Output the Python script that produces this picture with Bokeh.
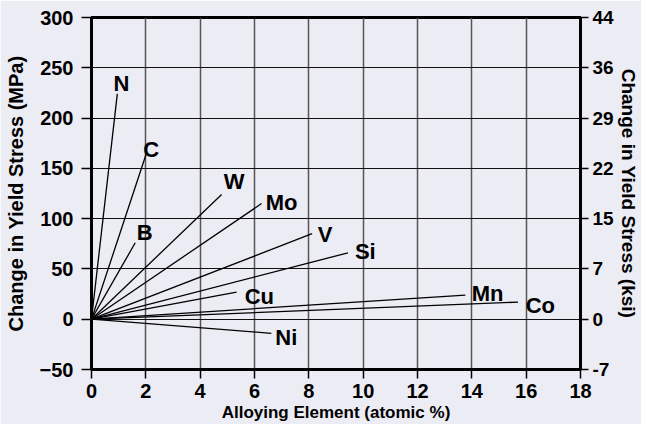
from bokeh.plotting import figure
from bokeh.models import LinearAxis, Range1d, FixedTicker, Label, ColumnDataSource
from bokeh.core.properties import value
from bokeh.embed import file_html
from bokeh.resources import INLINE

# ---- data ----
elements = ["N", "C", "B", "W", "Mo", "V", "Si", "Cu", "Mn", "Co", "Ni"]
end_x = [0.95, 2.01, 1.61, 4.79, 6.26, 8.12, 9.44, 5.34, 13.76, 15.70, 6.62]
end_y = [224, 164, 76, 124, 115, 85, 66, 27, 24, 17, -14]
label_x = [1.10, 2.20, 1.96, 5.25, 7.00, 8.60, 10.08, 6.18, 14.58, 16.52, 7.17]
label_y = [234, 169, 86, 137, 116, 84, 67, 23, 26, 14, -18]
origin_x = 0.0
origin_y = 0.0

x_ticks = [0, 2, 4, 6, 8, 10, 12, 14, 16, 18]
y_ticks = [-50, 0, 50, 100, 150, 200, 250, 300]
ksi_labels = ["-7", "0", "7", "15", "22", "29", "36", "44"]

title_text = "Stainless Steels"
x_title = "Alloying Element (atomic %)"
y_title = "Change in Yield Stress (MPa)"
y2_title = "Change in Yield Stress (ksi)"

# ---- style ----
bg = "#ececf4"
main_font = "Liberation Sans"

p = figure(width=641, height=424,
           x_range=Range1d(0, 18), y_range=Range1d(-50, 300),
           output_backend="svg", toolbar_location=None,
           min_border_left=91, min_border_right=58,
           min_border_top=17, min_border_bottom=54,
           background_fill_color=bg, border_fill_color=bg)

p.outline_line_color = "black"
p.outline_line_width = 3

p.xaxis.ticker = FixedTicker(ticks=x_ticks)
p.yaxis.ticker = FixedTicker(ticks=y_ticks)
p.xaxis.axis_label = x_title
p.yaxis.axis_label = y_title

p.extra_y_ranges = {"ksi": Range1d(-50, 300)}
ax2 = LinearAxis(y_range_name="ksi", ticker=FixedTicker(ticks=y_ticks),
                 major_label_overrides={t: l for t, l in zip(y_ticks, ksi_labels)},
                 axis_label=y2_title)
p.add_layout(ax2, "right")

for ax in [p.xaxis[0], p.yaxis[0], ax2]:
    ax.axis_line_color = "black"
    ax.axis_line_width = 3
    ax.major_tick_line_color = "black"
    ax.major_tick_line_width = 1.5
    ax.major_tick_in = 0
    ax.major_tick_out = 10
    ax.minor_tick_in = 0
    ax.minor_tick_out = 0
    ax.major_label_text_font = main_font
    ax.major_label_text_font_style = "bold"
    ax.major_label_text_font_size = "20px"
    ax.major_label_text_color = "black"
    ax.axis_label_text_font = main_font
    ax.axis_label_text_font_style = "bold"
    ax.axis_label_text_color = "black"

p.yaxis[0].axis_label_text_font_size = "20px"
p.yaxis[0].major_label_standoff = 8
p.yaxis[0].axis_label_standoff = 10

ax2.axis_label_text_font_size = "19px"
ax2.major_label_text_font_size = "19px"
ax2.major_tick_out = 8
ax2.major_label_standoff = 4
ax2.axis_label_standoff = 1

p.xaxis[0].axis_label_text_font_size = "17px"
p.xaxis[0].major_tick_out = 9
p.xaxis[0].major_label_standoff = 5
p.xaxis[0].axis_label_standoff = 2

p.xgrid.ticker = FixedTicker(ticks=x_ticks)
p.ygrid.ticker = FixedTicker(ticks=y_ticks)
p.xgrid.grid_line_color = "#555555"
p.xgrid.grid_line_width = 1.5
p.ygrid.grid_line_color = "#111111"
p.ygrid.grid_line_width = 1.2

n = len(elements)
src = ColumnDataSource(dict(x0=[origin_x] * n, y0=[origin_y] * n,
                            x1=end_x, y1=end_y,
                            lx=label_x, ly=label_y, name=elements))
p.segment(x0="x0", y0="y0", x1="x1", y1="y1", source=src,
          line_color="black", line_width=1.3)
p.text(x="lx", y="ly", text="name", source=src,
       text_font=value(main_font), text_font_style="bold",
       text_font_size="22px", text_align="center", text_baseline="middle",
       text_color="black")

title = Label(x=2.45, y=300, x_units="data", y_units="data", y_offset=8,
              text=title_text, text_font=main_font, text_font_style="bold",
              text_font_size="27px", text_baseline="alphabetic",
              text_color="black")
p.add_layout(title)

open("out.html", "w").write(file_html(p, INLINE))
